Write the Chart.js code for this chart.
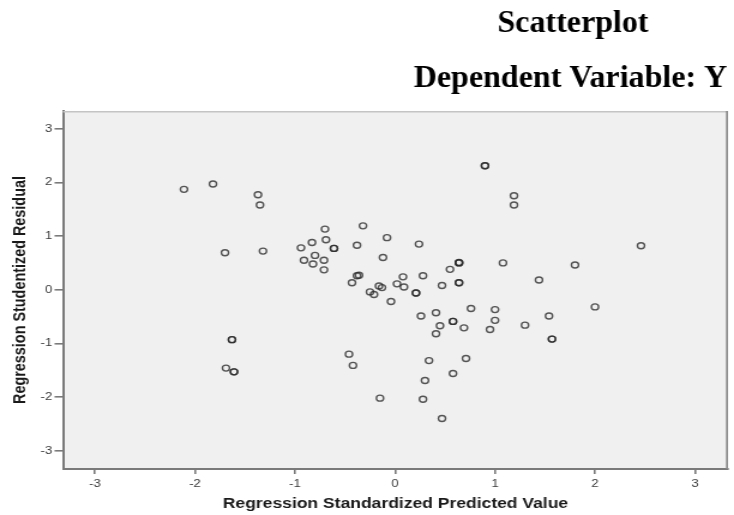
<!DOCTYPE html>
<html>
<head>
<meta charset="utf-8">
<script src="https://cdn.jsdelivr.net/npm/chart.js@4/dist/chart.umd.min.js"></script>
<style>
  html, body { margin: 0; padding: 0; background: #ffffff; }
  #wrap { width: 734px; height: 515px; overflow: hidden; }
  canvas { display: block; }
</style>
</head>
<body>
<div id="wrap">
  <canvas id="c" width="612" height="515" style="width:734px;height:515px;"></canvas>
</div>
<script>
// ---- Data (x = standardized predicted, y = studentized residual) ----
const xValues = [
  -2.11, -1.82, -1.70, -1.37, -1.35, -1.32,
  -0.70, -0.32, -0.08, 0.24, -0.94, -0.83, -0.69, -0.61, -0.61, -0.38,
  -0.80, -0.91, -0.82, -0.71, -0.71, -0.12, -0.38, -0.36, -0.43,
  -0.25, -0.21, -0.16, -0.13, -0.04, 0.02, 0.08, 0.09, 0.21, 0.21,
  0.28, 0.47, 0.55, 0.90, 0.90, 1.19, 1.19, 2.46,
  0.64, 0.64, 0.64, 1.08, 1.80, 0.64, 0.64, 1.44, 2.00, 0.76, 1.00,
  -1.63, -1.63, -1.69, -1.61, -1.61, -0.46, -0.42, -0.15,
  0.26, 0.41, 0.45, 0.41, 0.34, 0.30, 0.28, 0.47,
  0.58, 0.58, 0.69, 1.00, 0.95, 1.30, 1.54, 1.57, 1.57, 0.71, 0.58
];
const yValues = [
  1.87, 1.97, 0.69, 1.77, 1.58, 0.72,
  1.13, 1.19, 0.97, 0.85, 0.78, 0.88, 0.93, 0.77, 0.77, 0.83,
  0.64, 0.55, 0.48, 0.55, 0.37, 0.60, 0.26, 0.27, 0.13,
  -0.04, -0.09, 0.07, 0.04, -0.22, 0.11, 0.24, 0.05, -0.06, -0.06,
  0.26, 0.08, 0.38, 2.31, 2.31, 1.75, 1.58, 0.82,
  0.50, 0.50, 0.51, 0.50, 0.46, 0.13, 0.13, 0.18, -0.32, -0.35, -0.37,
  -0.93, -0.93, -1.46, -1.53, -1.53, -1.20, -1.41, -2.02,
  -0.49, -0.43, -0.67, -0.82, -1.32, -1.69, -2.04, -2.40,
  -0.59, -0.59, -0.71, -0.57, -0.74, -0.66, -0.49, -0.92, -0.92, -1.28, -1.56
];
const xTickValues = [-3, -2, -1, 0, 1, 2, 3];
const yTickValues = [-3, -2, -1, 0, 1, 2, 3];
const titleLines = ['Scatterplot', 'Dependent Variable: Y'];
const xAxisTitle = 'Regression Standardized Predicted Value';
const yAxisTitle = 'Regression Studentized Residual';

const points = xValues.map((x, i) => ({ x: x, y: yValues[i] }));

// The reference chart image is stretched horizontally; reproduce via CSS scaling.
const STRETCH = 734 / 612;

const framePlugin = {
  id: 'frame',
  beforeDraw(chart) {
    const { ctx, chartArea: a } = chart;
    ctx.save();
    ctx.fillStyle = '#f0f0f0';
    ctx.fillRect(a.left, a.top, a.right - a.left, a.bottom - a.top);
    ctx.restore();
  },
  beforeDatasetsDraw(chart) {
    const { ctx, chartArea: a } = chart;
    ctx.save();
    ctx.strokeStyle = '#c4c4c4';
    ctx.lineWidth = 1.5;
    ctx.beginPath();
    ctx.moveTo(a.left, a.top + 0.75);
    ctx.lineTo(a.right, a.top + 0.75);
    ctx.stroke();
    ctx.strokeStyle = '#8a8a8a';
    ctx.lineWidth = 1.7;
    ctx.beginPath();
    ctx.moveTo(a.right - 0.85, a.top);
    ctx.lineTo(a.right - 0.85, a.bottom);
    ctx.stroke();
    ctx.restore();
  },
  afterDraw(chart) {
    const { ctx } = chart;
    ctx.save();
    ctx.scale(1 / STRETCH, 1);
    ctx.fillStyle = '#000000';
    ctx.font = 'bold 32px "Liberation Serif", "Times New Roman", serif';
    ctx.textAlign = 'center';
    ctx.textBaseline = 'alphabetic';
    ctx.fillText(titleLines[0], 573, 32);
    ctx.fillText(titleLines[1], 570.5, 87);
    ctx.restore();
  }
};

new Chart(document.getElementById('c'), {
  type: 'scatter',
  data: {
    datasets: [{
      data: points,
      pointStyle: 'circle',
      pointRadius: 3,
      pointHoverRadius: 3,
      borderWidth: 1.4,
      borderColor: 'rgba(40,40,40,0.78)',
      backgroundColor: 'rgba(0,0,0,0)'
    }]
  },
  options: {
    responsive: false,
    animation: false,
    devicePixelRatio: 1,
    layout: { padding: { top: 111, right: 5, bottom: 0, left: 0 } },
    plugins: {
      legend: { display: false },
      tooltip: { enabled: false },
      title: { display: false }
    },
    scales: {
      x: {
        type: 'linear',
        min: -3.32,
        max: 3.33,
        afterFit(scale) { scale.height = 46; },
        afterBuildTicks(scale) { scale.ticks = xTickValues.map(v => ({ value: v })); },
        border: { display: true, color: '#7a7a7a', width: 2 },
        grid: { display: true, drawOnChartArea: false, drawTicks: true, tickLength: 5, color: '#7a7a7a', lineWidth: 1.6 },
        ticks: {
          padding: 3,
          color: '#3c3c3c',
          font: { family: '"Liberation Sans", Arial, sans-serif', size: 11 },
          callback: v => String(v)
        },
        title: {
          display: true,
          text: xAxisTitle,
          color: '#1a1a1a',
          font: { family: '"Liberation Sans", Arial, sans-serif', size: 14.6, weight: 'bold', lineHeight: 1 },
          padding: { top: 0, bottom: 3.7 }
        }
      },
      y: {
        type: 'linear',
        min: -3.34,
        max: 3.33,
        afterFit(scale) { scale.width = 52.5; },
        afterBuildTicks(scale) { scale.ticks = yTickValues.map(v => ({ value: v })); },
        border: { display: true, color: '#7a7a7a', width: 2 },
        grid: { display: true, drawOnChartArea: false, drawTicks: true, tickLength: 7, color: '#7a7a7a', lineWidth: 1.6 },
        ticks: {
          padding: 2,
          color: '#3c3c3c',
          font: { family: '"Liberation Sans", Arial, sans-serif', size: 11 },
          callback: v => String(v)
        },
        title: {
          display: true,
          text: yAxisTitle,
          color: '#1a1a1a',
          font: { family: '"Liberation Sans", Arial, sans-serif', size: 14.4, weight: 'bold', lineHeight: 1 },
          padding: { top: 10.3, bottom: 0 }
        }
      }
    }
  },
  plugins: [framePlugin]
});
</script>
</body>
</html>
